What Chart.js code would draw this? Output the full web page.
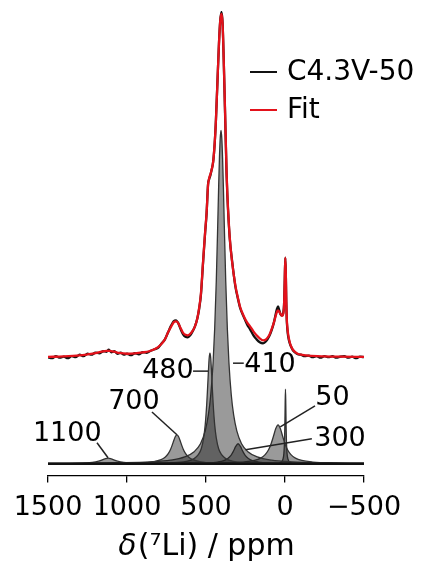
<!DOCTYPE html>
<html>
<head>
<meta charset="utf-8">
<script src="https://cdn.jsdelivr.net/npm/chart.js@4.4.0/dist/chart.umd.min.js"></script>
<style>
  html, body { margin: 0; padding: 0; background: #fff; }
  #wrap { width: 422px; height: 569px; }
</style>
</head>
<body>
<div id="wrap"><canvas id="chart"></canvas></div>
<script>
// x ticks (ppm), reversed axis like an NMR plot
const xTicks = [1500, 1000, 500, 0, -500];

// measured spectrum and fit, [ppm, intensity] (intensity above their own baseline)
const expt = [[1500,0],[1475,-1],[1450,1],[1425,-0.5],[1400,0.5],[1375,-1],[1350,1],[1325,0],[1300,2.5],[1275,1],
  [1250,3.5],[1225,2.5],[1200,4.5],[1175,4],[1150,6],[1130,5.5],[1115,7.5],[1100,5],[1080,6],[1060,3.5],[1040,4.5],
  [1020,2.5],[1000,3.5],[975,2],[950,4],[925,3],[900,5],[875,4.5],[850,6.5],[825,8],[800,10],[780,14],[760,18],
  [740,25],[720,32],[705,36],[690,37],[675,34],[660,28],[645,23],[630,20.5],[615,20],[600,22],[585,26],[570,31],
  [555,39],[544,48],[532,63],[519,94],[506,124],[496,145],[487,174],[480,179],[472,183],[465,188],[455,196],
  [445,215],[437,239],[428,275],[418,315],[410,338],[402,347],[395,336],[388,300],[382,262],[378,237],[370,185],
  [365,163],[350,120],[335,97],[315,72],[297,58],[285,50],[260,40],[240,33],[221,28],[200,22],[180,18],[160,15],
  [139,14],[120,16],[100,21],[85,27],[70,35],[58,44],[50,49],[44,51],[36,47],[28,43],[19,42],[12,44],[6,53],
  [2,75],[-2,100],[-5,86],[-8,56],[-11,38],[-15,28],[-20,21],[-30,14],[-40,10],[-50,7],[-65,4.5],[-80,3],
  [-100,2.5],[-125,1],[-150,1.5],[-175,0],[-200,1],[-225,-0.5],[-250,1],[-275,0],[-300,1],[-325,-0.5],[-350,0.5],
  [-375,1],[-400,-0.5],[-425,0.5],[-450,-1],[-475,0.5],[-500,0]];

const fit = [[1500,0.3],[1400,0.8],[1300,1.8],[1250,2.8],[1200,4],[1160,5.5],[1130,6.3],[1110,6.3],[1080,5.5],
  [1050,4.3],[1000,3.5],[950,3.8],[900,4.8],[860,6],[820,8.5],[790,12],[760,18],[740,25],[720,31],[705,35],[690,36],
  [675,34],[660,29],[645,24.5],[630,22.5],[615,22],[600,23.5],[585,26.5],[570,31],[555,39],[544,49],[532,64],
  [519,95],[506,125],[496,146],[487,173],[480,180],[472,184],[465,188],[455,196],[445,215],[437,239],[428,275],
  [418,315],[410,338],[402,345],[395,335],[388,300],[382,264],[378,239],[370,187],[365,165],[350,121],[335,96],
  [315,73],[297,59],[285,51],[260,41],[240,35],[221,31],[200,26],[180,22],[160,19],[139,17],[120,18],[100,22],
  [85,28],[70,35],[58,42],[50,46],[44,47],[36,45.5],[28,43.5],[19,41.5],[12,43],[6,52],[2,75],[-2,100],[-5,86],
  [-8,58],[-11,40],[-15,30],[-20,23],[-30,15],[-40,10.5],[-50,7.5],[-65,5],[-80,3.5],[-100,2.5],[-150,1.5],
  [-250,0.8],[-350,0.5],[-500,0.3]];

// fitted components
const peak1100 = [[1500,0.2],[1300,0.5],[1220,1.3],[1180,2.5],[1160,3.6],[1140,4.8],[1120,5.5],[1100,4.8],[1080,3.6],
  [1060,2.5],[1020,1.3],[940,0.5],[700,0.1],[-500,0]];
const peak700 = [[1500,0.1],[1084,0.3],[934,0.7],[834,1.9],[784,4],[759,6.4],[739,10],[724,14.5],[714,18.6],[704,23.2],
  [694,27.3],[684,29],[674,27.3],[664,23.2],[654,18.6],[644,14.5],[629,10],[609,6.4],[584,4],[534,1.9],[434,0.7],
  [284,0.3],[-500,0.05]];
const peak480 = [[1500,0.1],[1000,0.2],[875,0.34],[725,0.85],[625,2.3],[575,5.1],[550,8.8],[530,15],[515,26],[505,39],
  [495,61],[490,76],[485,92],[480,106],[475,111],[470,106],[465,92],[460,76],[455,61],[445,39],[435,26],[420,15],
  [400,8.8],[375,5.1],[325,2.3],[225,0.85],[75,0.34],[-500,0.1]];
const peak410 = [[1500,0.3],[1200,0.6],[1055,0.9],[855,1.8],[725,3.5],[635,6.8],[575,12],[535,20],[505,33],[485,49],
  [470,69],[455,102],[445,136],[435,183],[425,245],[420,278],[415,307],[410,327],[405,335],[400,327],[395,307],
  [390,278],[385,245],[375,183],[365,136],[355,102],[340,69],[325,49],[305,33],[275,20],[235,12],[175,6.8],
  [85,3.5],[-45,1.8],[-245,0.9],[-500,0.5]];
const peak300 = [[1500,0.05],[647,0.23],[497,0.7],[427,1.6],[387,3],[362,5.1],[342,8.3],[327,12.3],[312,17.3],[297,20],
  [282,17.3],[267,12.3],[252,8.3],[232,5.1],[207,3],[167,1.6],[97,0.7],[-53,0.23],[-500,0.05]];
const peak50 = [[1500,0.04],[644,0.22],[394,0.63],[264,1.6],[194,3.2],[154,5.6],[124,9.4],[104,14],[89,19.5],[74,27],
  [59,35],[44,39],[29,35],[14,27],[-1,19.5],[-16,14],[-36,9.4],[-66,5.6],[-106,3.2],[-176,1.6],[-306,0.63],[-500,0.25]];
const peak0 = [[1500,0],[57,0.33],[27,1.3],[13,4.4],[7,10.3],[3,23],[1,37.5],[-1,60],[-3,75],[-5,60],[-7,37.5],
  [-9,23],[-13,10.3],[-19,4.4],[-33,1.3],[-63,0.33],[-500,0]];
const baseline = [[1500,0],[-500,0]];

// spectra sit above the components by this much
const spectrumOffset = 107;

// peak labels: text, where the text sits, leader line from / to (all in ppm, intensity)
const peakLabels = ['1100', '700', '480', '410', '300', '50'];
const labelAt = [[1378,30],[956,62],[741,93],[95,99],[-348,25],[-300,66]];
const leaderFrom = [[1190,21],[842,52],[582,93],[329,101],[-170,25],[-190,58]];
const leaderTo = [[1120,6],[684,29],[487,93],[261,101],[250,14],[30,37]];

const FONT = "'DejaVu Sans', Verdana, sans-serif";

function pts(arr, off) {
    return arr.map(p => ({x: p[0], y: p[1] + (off || 0)}));
}

const components = [peak1100, peak700, peak480, peak410, peak300, peak50, peak0];

let datasets = [
    {label: 'Fit', data: pts(fit, spectrumOffset), borderColor: '#e3121b', borderWidth: 2.3, order: 0},
    {label: 'C4.3V-50', data: pts(expt, spectrumOffset), borderColor: '#111', borderWidth: 2.3, order: 1},
    {label: 'baseline', data: pts(baseline), borderColor: '#111', borderWidth: 2.5, order: 2}
];
components.forEach(c => {
    datasets.push({label: '', data: pts(c), borderColor: '#333', borderWidth: 1.3,
                   backgroundColor: 'rgba(30,30,30,0.45)', fill: 'origin', order: 3});
});
datasets.forEach(d => {
    d.pointRadius = 0;
    d.cubicInterpolationMode = 'monotone';
    if (d.fill === undefined) d.fill = false;
});

const decor = {
    id: 'decor',
    afterDraw(chart) {
        const ctx = chart.ctx;
        const xs = chart.scales.x, ys = chart.scales.y;
        const ca = chart.chartArea;
        ctx.save();

        // legend
        const legendItems = [datasets[1], datasets[0]];
        ctx.font = '28px ' + FONT;
        ctx.textBaseline = 'middle';
        ctx.textAlign = 'left';
        legendItems.forEach((d, i) => {
            const y = ca.top + 61 + i * 38;
            ctx.strokeStyle = d.borderColor;
            ctx.lineWidth = 2;
            ctx.beginPath();
            ctx.moveTo(ca.left + 202, y);
            ctx.lineTo(ca.left + 229, y);
            ctx.stroke();
            ctx.fillStyle = '#000';
            ctx.fillText(d.label, ca.left + 239, y + 1);
        });

        // peak labels with leader lines
        ctx.font = '27px ' + FONT;
        ctx.textAlign = 'center';
        ctx.strokeStyle = '#222';
        ctx.lineWidth = 1.5;
        peakLabels.forEach((t, i) => {
            ctx.beginPath();
            ctx.moveTo(xs.getPixelForValue(leaderFrom[i][0]), ys.getPixelForValue(leaderFrom[i][1]));
            ctx.lineTo(xs.getPixelForValue(leaderTo[i][0]), ys.getPixelForValue(leaderTo[i][1]));
            ctx.stroke();
            ctx.fillStyle = '#000';
            ctx.fillText(t, xs.getPixelForValue(labelAt[i][0]), ys.getPixelForValue(labelAt[i][1]));
        });

        // axis title with italic delta
        const yT = xs.bottom - 22;
        ctx.font = 'italic 30px ' + FONT;
        const w1 = ctx.measureText('δ').width;
        ctx.font = '30px ' + FONT;
        const rest = '(\u2077Li) / ppm';
        const w2 = ctx.measureText(rest).width;
        let x0 = (ca.left + ca.right) / 2 - (w1 + w2) / 2;
        ctx.textAlign = 'left';
        ctx.fillStyle = '#000';
        ctx.font = 'italic 30px ' + FONT;
        ctx.fillText('δ', x0, yT);
        ctx.font = '30px ' + FONT;
        ctx.fillText(rest, x0 + w1 + 1, yT);
        ctx.restore();
    }
};

const ctx = document.getElementById('chart');
const chart = new Chart(ctx, {
    type: 'line',
    data: {datasets: datasets},
    options: {
        responsive: true,
        maintainAspectRatio: false,
        animation: false,
        devicePixelRatio: 1,
        layout: {padding: {top: 11, left: 48, right: 58, bottom: 0}},
        plugins: {legend: {display: false}, tooltip: {enabled: false}},
        scales: {
            x: {
                type: 'linear',
                reverse: true,
                min: -500,
                max: 1500,
                afterBuildTicks: s => { s.ticks = xTicks.map(v => ({value: v})); },
                ticks: {
                    color: '#000', padding: 9, maxRotation: 0, autoSkip: false,
                    font: {family: FONT, size: 27},
                    callback: v => v < 0 ? '\u2212' + Math.abs(v) : String(v)
                },
                grid: {drawOnChartArea: false, drawTicks: true, tickLength: 7, color: '#000', lineWidth: 1.3},
                border: {display: true, color: '#000', width: 1.3},
                title: {display: true, text: 'δ(⁷Li) / ppm', color: 'rgba(0,0,0,0)',
                        font: {family: FONT, size: 30}, padding: {top: 0, bottom: 0}}
            },
            y: {display: false, min: -12, max: 455}
        }
    },
    plugins: [decor]
});
</script>
</body>
</html>
